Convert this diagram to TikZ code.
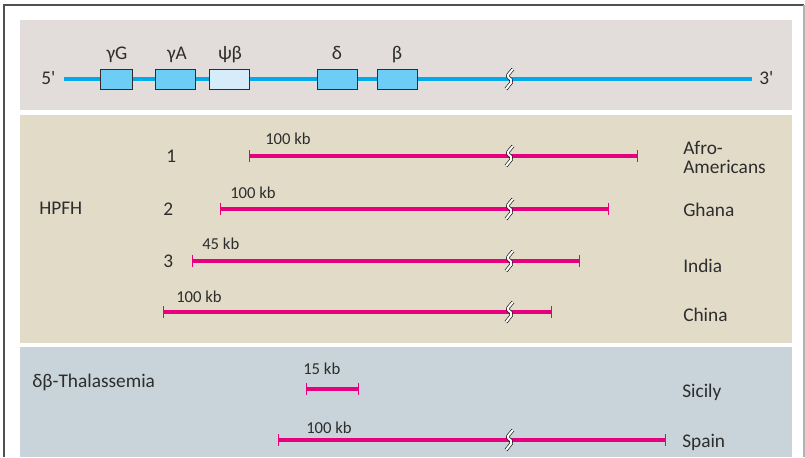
\documentclass[tikz,border=0pt]{standalone}
\usepackage{fontspec}
\setmainfont{Carlito}
\usetikzlibrary{arrows.meta}

\definecolor{panelgene}{RGB}{226,221,218}
\definecolor{panelhpfh}{RGB}{226,219,200}
\definecolor{panelthal}{RGB}{200,212,217}
\definecolor{dnablue}{RGB}{0,170,235}
\definecolor{genecyan}{RGB}{110,205,245}
\definecolor{genepale}{RGB}{214,236,250}
\definecolor{delmag}{RGB}{230,0,126}
\definecolor{txtgray}{RGB}{45,45,45}
\definecolor{framegray}{RGB}{80,80,80}

\tikzset{
  lbl/.style={anchor=base west, text=txtgray, inner sep=0pt, font=\fontsize{14.5}{16}\selectfont},
  kblbl/.style={lbl, font=\fontsize{12.5}{14}\selectfont},
  genelbl/.style={lbl, anchor=base},
  genebox/.style={draw=txtgray, fill=genecyan, line width=0.7pt, inner sep=0pt,
    minimum width=30pt, minimum height=15pt},
  delbar/.style={delmag, line width=3pt,
    {Bar[width=9pt,line width=1.1pt]}-{Bar[width=9pt,line width=1.1pt]}},
  breakmark/.style={draw=black, line width=0.45pt, double=white, double distance=1.6pt,
    rounded corners=1.5pt}
}

\begin{document}
\begin{tikzpicture}[x=0.75pt, y=-0.75pt]

    % Page and frame
    \useasboundingbox (0,0) rectangle (805,457);
    \fill[white] (0,0) rectangle (805,457);
    \draw[framegray, line width=1.2pt] (4,457) -- (4,5) -- (804,5);
    \draw[gray!60, line width=1pt] (804,5) -- (804,457);

    % Panels
    \fill[panelgene] (20,20) rectangle (792,110);
    \fill[panelhpfh] (20,115) rectangle (792,343);
    \fill[panelthal] (20,347) rectangle (792,457);

    % ---------- Gene cluster ----------
    \coordinate (dnaL) at (64,79);
    \coordinate (dnaR) at (752,79);
    \draw[dnablue, line width=3.2pt] (dnaL) -- (dnaR);
    \node[lbl] (five) at (41,84) {5\textquotesingle};
    \node[lbl] (three) at (759,84) {3\textquotesingle};

    \node[genebox, minimum width=24pt] (gG) at (116,79) {};
    \node[genebox] (gA) at (175,79) {};
    \node[genebox, fill=genepale] (psiB) at (229.5,79) {};
    \node[genebox] (delta) at (337.5,79) {};
    \node[genebox] (beta) at (397,79) {};

    \node[genelbl] (gGlbl) at (117,59) {γG};
    \node[genelbl] (gAlbl) at (177,59) {γA};
    \node[genelbl] (psiBlbl) at (230,59) {ψβ};
    \node[genelbl] (deltalbl) at (337,59) {δ};
    \node[genelbl] (betalbl) at (397,59) {β};

    % ---------- HPFH deletions ----------
    \node[lbl] (hpfh) at (39,214) {HPFH};
    \node[lbl] (one) at (166,162) {1};
    \node[lbl] (two) at (163,215) {2};
    \node[lbl] (threeN) at (163,267) {3};

    \coordinate (afroL) at (249,156);  \coordinate (afroR) at (638,156);
    \coordinate (ghanaL) at (220,209); \coordinate (ghanaR) at (609,209);
    \coordinate (indiaL) at (192,261); \coordinate (indiaR) at (580,261);
    \coordinate (chinaL) at (163,312); \coordinate (chinaR) at (552,312);

    \draw[delbar] (afroL) -- (afroR);
    \draw[delbar] (ghanaL) -- (ghanaR);
    \draw[delbar] (indiaL) -- (indiaR);
    \draw[delbar] (chinaL) -- (chinaR);

    \node[kblbl] (afrokb) at (265,144) {100 kb};
    \node[kblbl] (ghanakb) at (230,198) {100 kb};
    \node[kblbl] (indiakb) at (202,249) {45 kb};
    \node[kblbl] (chinakb) at (176,302) {100 kb};

    \node[lbl] (afro) at (683,154) {Afro-};
    \node[lbl] (americans) at (683,173) {Americans};
    \node[lbl] (ghana) at (683,216) {Ghana};
    \node[lbl] (india) at (683,272) {India};
    \node[lbl] (china) at (683,321) {China};

    % ---------- delta-beta thalassemia ----------
    \node[lbl] (thal) at (32,387) {δβ-Thalassemia};

    \coordinate (sicilyL) at (306,389); \coordinate (sicilyR) at (359,389);
    \coordinate (spainL) at (278,440);  \coordinate (spainR) at (666,440);

    \draw[delbar] (sicilyL) -- (sicilyR);
    \draw[delbar] (spainL) -- (spainR);

    \node[kblbl] (sicilykb) at (303,374) {15 kb};
    \node[kblbl] (spainkb) at (306,433) {100 kb};

    \node[lbl] (sicily) at (682,397) {Sicily};
    \node[lbl] (spain) at (682,447) {Spain};

    % Break marks
    \foreach \y in {79,156,209,261,312,440}
      \draw[breakmark] (513,\y-10) -- (507,\y-3) -- (512.5,\y+2) -- (506,\y+10);

\end{tikzpicture}
\end{document}
